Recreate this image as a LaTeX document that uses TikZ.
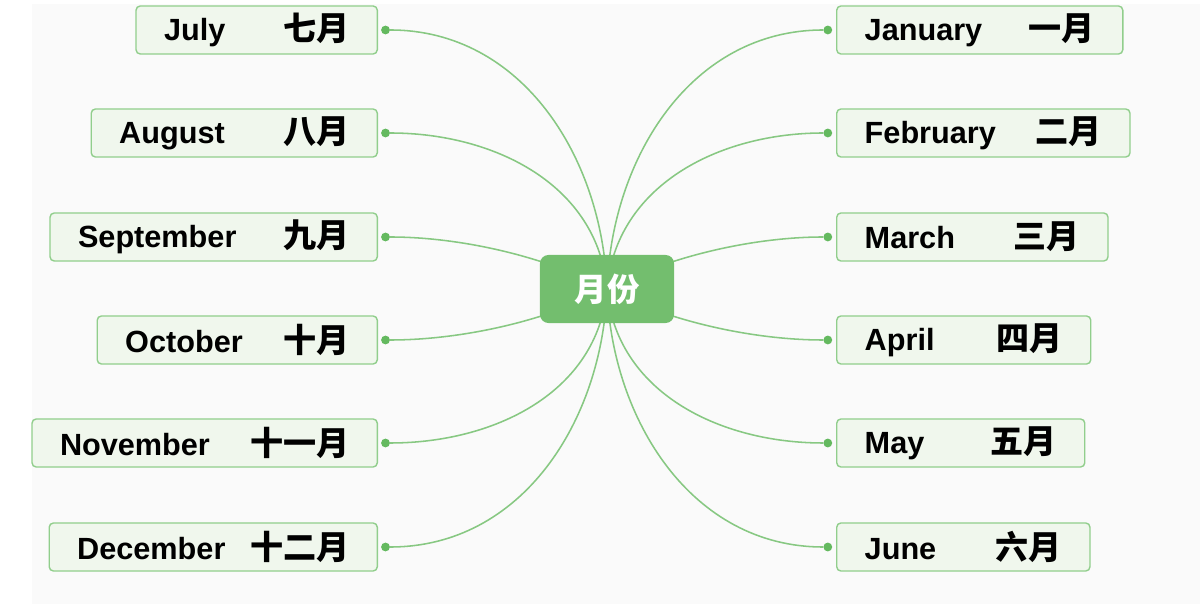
\documentclass[tikz,border=0pt]{standalone}
\usepackage{fontspec}
\setmainfont{Liberation Sans}
\newfontfamily\cjk{Noto Sans CJK SC}
\usepackage{tikz}
\usetikzlibrary{positioning,backgrounds}

\definecolor{paper}{RGB}{250,250,250}
\definecolor{leaf}{RGB}{240,247,237}
\definecolor{leafline}{RGB}{145,206,140}
\definecolor{branch}{RGB}{135,200,130}
\definecolor{knob}{RGB}{100,185,95}
\definecolor{hub}{RGB}{115,190,110}

% english name left, chinese name right
\newcommand{\mlabel}[3]{\makebox[#1]{#2\hfill{\cjk\fontsize{23.5}{26}\selectfont #3}}}

\begin{document}
\begin{tikzpicture}[x=0.025cm, y=0.025cm, font=\fontsize{21.8}{26}\selectfont\bfseries]
	\tikzset{leafbox/.style={rounded corners=3pt,line width=1pt,draw=leafline,fill=leaf,text=black,inner xsep=0.7cm,inner ysep=0pt,minimum height=1.2cm}}
	\tikzset{hubbox/.style={rounded corners=6pt,fill=hub,text=white,minimum width=3.35cm,minimum height=1.7cm,font=\cjk\fontsize{23}{26}\selectfont\bfseries}}
	\tikzset{dot/.style={circle,fill=knob,inner sep=0pt,minimum size=0.22cm}}
	\tikzset{branchline/.style={draw=branch,line width=1.1pt}}
	\useasboundingbox (0,0) rectangle (1200,604);

	% centre
	\node[hubbox] (hub) at (607,315) {月份};

	% left side
	\node[leafbox, anchor=east] (jul) at (378,574) {\mlabel{4.63cm}{July}{七月}};
	\node[leafbox, anchor=east] (aug) at (378,471) {\mlabel{5.75cm}{August}{八月}};
	\node[leafbox, anchor=east] (sep) at (378,367) {\mlabel{6.78cm}{September}{九月}};
	\node[leafbox, anchor=east] (oct) at (378,264) {\mlabel{5.6cm}{October}{十月}};
	\node[leafbox, anchor=east] (nov) at (378,161) {\mlabel{7.23cm}{November}{十一月}};
	\node[leafbox, anchor=east] (dec) at (378,57) {\mlabel{6.8cm}{December}{十二月}};

	% right side
	\node[leafbox, anchor=west] (jan) at (836,574) {\mlabel{5.75cm}{January}{一月}};
	\node[leafbox, anchor=west] (feb) at (836,471) {\mlabel{5.93cm}{February}{二月}};
	\node[leafbox, anchor=west] (mar) at (836,367) {\mlabel{5.38cm}{March}{三月}};
	\node[leafbox, anchor=west] (apr) at (836,264) {\mlabel{4.95cm}{April}{四月}};
	\node[leafbox, anchor=west] (may) at (836,161) {\mlabel{4.8cm}{May}{五月}};
	\node[leafbox, anchor=west] (jun) at (836,57) {\mlabel{4.93cm}{June}{六月}};

	% knobs
	\node[dot, right=2pt of jul] (jul-d) {};
	\node[dot, right=2pt of aug] (aug-d) {};
	\node[dot, right=2pt of sep] (sep-d) {};
	\node[dot, right=2pt of oct] (oct-d) {};
	\node[dot, right=2pt of nov] (nov-d) {};
	\node[dot, right=2pt of dec] (dec-d) {};
	\node[dot, left=2.5pt of jan] (jan-d) {};
	\node[dot, left=2.5pt of feb] (feb-d) {};
	\node[dot, left=2.5pt of mar] (mar-d) {};
	\node[dot, left=2.5pt of apr] (apr-d) {};
	\node[dot, left=2.5pt of may] (may-d) {};
	\node[dot, left=2.5pt of jun] (jun-d) {};

	\begin{pgfonlayer}{background}
		\fill[paper] (32,0) rectangle (1200,600);
		% branches
		\path[branchline]
			(hub.center) edge [out=92,in=0]    (jul-d)
			(hub.center) edge [out=95,in=0]    (aug-d)
			(hub.center) edge [out=152,in=0,looseness=0.8]   (sep-d)
			(hub.center) edge [out=208,in=0,looseness=0.8]   (oct-d)
			(hub.center) edge [out=265,in=0]   (nov-d)
			(hub.center) edge [out=268,in=0]   (dec-d)
			(hub.center) edge [out=88,in=180]  (jan-d)
			(hub.center) edge [out=85,in=180]  (feb-d)
			(hub.center) edge [out=28,in=180,looseness=0.8]  (mar-d)
			(hub.center) edge [out=-28,in=180,looseness=0.8] (apr-d)
			(hub.center) edge [out=-85,in=180] (may-d)
			(hub.center) edge [out=-88,in=180] (jun-d)
			;
	\end{pgfonlayer}
\end{tikzpicture}
\end{document}
